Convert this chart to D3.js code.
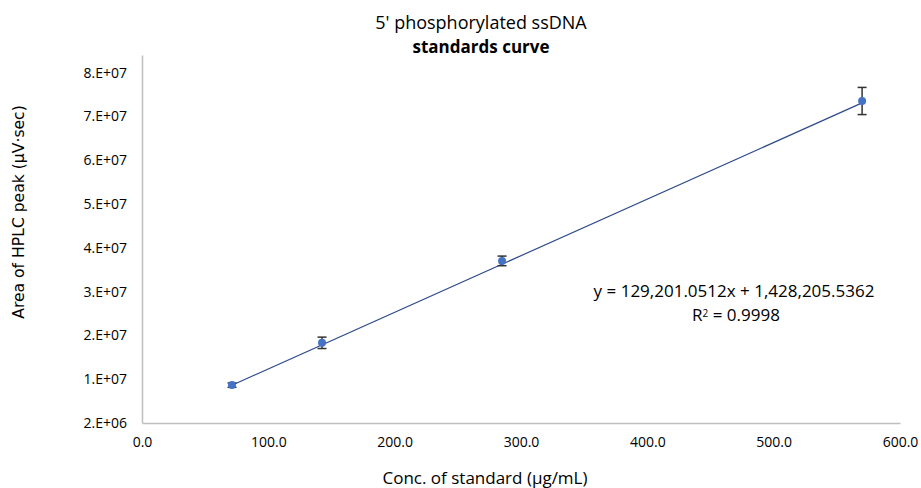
<!DOCTYPE html>
<html>
<head>
<meta charset="utf-8">
<script src="https://cdn.jsdelivr.net/npm/d3@7"></script>
<style>
  body { margin: 0; background: #fff; }
  text { font-family: "Open Sans", "Noto Sans", sans-serif; fill: #000; }
</style>
</head>
<body>
<svg id="chart"></svg>
<script>
const w = 921;
const h = 488;

// data
const conc = [71.25, 142.5, 285, 570];
const area = [10.65e6, 20.3e6, 39.0e6, 75.5e6];
const errs = [0.5e6, 1.3e6, 1.1e6, 3.1e6];
const slope = 129201.0512;
const intercept = 1428205.5362;
const xTicks = [0, 100, 200, 300, 400, 500, 600];
const yTicks = [2e6, 1.2e7, 2.2e7, 3.2e7, 4.2e7, 5.2e7, 6.2e7, 7.2e7, 8.2e7];

const padLeft = 142, padRight = 900, padTop = 55, padBottom = 423;

var chart = d3.select("#chart")
  .attr("width", w)
  .attr("height", h);

const xScale = d3.scaleLinear().domain([0, 600]).range([padLeft, padRight]);
const yScale = d3.scaleLinear().domain([2e6, 8.6e7]).range([padBottom, padTop]);

const xAxis = d3.axisBottom(xScale).tickValues(xTicks).tickSize(0).tickPadding(14)
  .tickFormat(d => d.toFixed(1));
const yAxis = d3.axisLeft(yScale).tickValues(yTicks).tickSize(0).tickPadding(15)
  .tickFormat(d => Math.round(d / Math.pow(10, Math.floor(Math.log10(d)))) + ".E+" + String(Math.floor(Math.log10(d))).padStart(2, "0"));

chart.append("g")
     .attr("transform", `translate(0, ${padBottom})`)
     .call(xAxis)
     .call(g => g.select(".domain").attr("stroke", "#bfbfbf").attr("stroke-width", 1.5))
     .selectAll("text").attr("font-size", 14).attr("fill", "#000");

chart.append("g")
     .attr("transform", `translate(${padLeft}, 0)`)
     .call(yAxis)
     .call(g => g.select(".domain").attr("stroke", "#bfbfbf").attr("stroke-width", 1.5))
     .selectAll("text").attr("font-size", 14).attr("fill", "#000");

// trendline
chart.append("line")
     .attr("x1", xScale(conc[0])).attr("y1", yScale(slope * conc[0] + intercept))
     .attr("x2", xScale(conc[3])).attr("y2", yScale(slope * conc[3] + intercept))
     .attr("stroke", "#2f4b8a").attr("stroke-width", 1.2);

// error bars
var eb = chart.append("g").attr("stroke", "#333").attr("stroke-width", 1.5);
conc.forEach((c, i) => {
  const x = xScale(c), y1 = yScale(area[i] + errs[i]), y2 = yScale(area[i] - errs[i]);
  eb.append("line").attr("x1", x).attr("x2", x).attr("y1", y1).attr("y2", y2);
  eb.append("line").attr("x1", x - 4.5).attr("x2", x + 4.5).attr("y1", y1).attr("y2", y1);
  eb.append("line").attr("x1", x - 4.5).attr("x2", x + 4.5).attr("y1", y2).attr("y2", y2);
});

chart.append("g").selectAll("circle")
     .data(conc)
     .join("circle")
     .attr("cx", d => xScale(d))
     .attr("cy", (d, i) => yScale(area[i]))
     .attr("r", 4)
     .attr("fill", "#4472c4");

// titles
chart.append("text").attr("x", 481).attr("y", 29).attr("text-anchor", "middle")
     .attr("font-size", 18).text("5' phosphorylated ssDNA");
chart.append("text").attr("x", 481).attr("y", 53).attr("text-anchor", "middle")
     .attr("font-size", 17).attr("font-weight", "bold").text("standards curve");

chart.append("text").attr("x", 485).attr("y", 484).attr("text-anchor", "middle")
     .attr("font-size", 17).text("Conc. of standard (µg/mL)");

chart.append("text").attr("transform", "translate(24, 212) rotate(-90)")
     .attr("text-anchor", "middle").attr("font-size", 15.6)
     .style("font-family", "'DejaVu Sans', sans-serif")
     .text("Area of HPLC peak (µV·sec)");

// equation
chart.append("text").attr("x", 734).attr("y", 297).attr("text-anchor", "middle")
     .attr("font-size", 17).text("y = 129,201.0512x + 1,428,205.5362");
var r2 = chart.append("text").attr("x", 736).attr("y", 321).attr("text-anchor", "middle")
     .attr("font-size", 17);
r2.append("tspan").text("R");
r2.append("tspan").attr("dy", -4).attr("font-size", 10).text("2");
r2.append("tspan").attr("dy", 4).text(" = 0.9998");
</script>
</body>
</html>
